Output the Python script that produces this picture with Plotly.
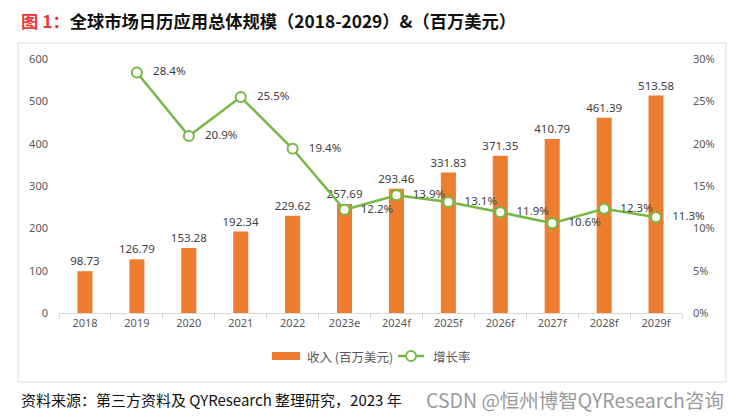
import plotly.graph_objects as go

categories = ["2018", "2019", "2020", "2021", "2022", "2023e", "2024f", "2025f", "2026f", "2027f", "2028f", "2029f"]
revenue = [98.73, 126.79, 153.28, 192.34, 229.62, 257.69, 293.46, 331.83, 371.35, 410.79, 461.39, 513.58]
growth = [None, 28.4, 20.9, 25.5, 19.4, 12.2, 13.9, 13.1, 11.9, 10.6, 12.3, 11.3]
left_ticks = [0, 100, 200, 300, 400, 500, 600]
right_ticks = [0, 5, 10, 15, 20, 25, 30]
bar_name = "收入 (百万美元)"
line_name = "增长率"

OFF = 8  # page body margin offset
W, H = 742 - OFF, 420 - OFF
# target screen coordinates of plot area
L, R, T, B = 59, 682, 59, 313
pw, ph = R - L, B - T

def px(x):
    return (x - L) / pw

def py(y):
    return (B - y) / ph

orange = "#ED7D31"
green = "#76B843"
tick_font = dict(family="Noto Sans, DejaVu Sans, sans-serif", size=11, color="#595959")
lab_font = dict(family="Noto Sans, DejaVu Sans, sans-serif", size=11.5, color="#404040")
leg_font = dict(family="Noto Sans CJK SC, sans-serif", size=12.5, color="#595959")

fig = go.Figure()
fig.add_trace(go.Bar(
    x=categories, y=revenue, name=bar_name,
    marker=dict(color=orange, line=dict(width=0)), width=0.29,
    text=[f"{v:.2f}" for v in revenue], textposition="outside",
    textfont=lab_font, cliponaxis=False, constraintext="none", yaxis="y",
))
fig.add_trace(go.Scatter(
    x=categories, y=growth, name=line_name, yaxis="y2",
    mode="lines+markers+text",
    line=dict(color=green, width=2.5),
    marker=dict(symbol="circle", size=10, color="white", line=dict(color=green, width=2)),
    text=[("" if g is None else f"   {g:.1f}%") for g in growth],
    textposition="middle right", textfont=lab_font, cliponaxis=False,
))

fig.update_layout(
    width=W, height=H,
    margin=dict(l=L - OFF, r=W - (R - OFF), t=T - OFF, b=H - (B - OFF), autoexpand=False),
    paper_bgcolor="white", plot_bgcolor="white",
    bargap=0.7,
    showlegend=False,
    xaxis=dict(type="category", range=[-0.5, 11.5], showline=True, linecolor="#D9D9D9", linewidth=1,
               ticks="outside", tickson="boundaries", ticklen=5, tickcolor="#D9D9D9",
               tickfont=tick_font, showgrid=False, fixedrange=True),
    yaxis=dict(range=[0, 600], tickvals=left_ticks, showgrid=False, zeroline=False,
               showline=False, tickfont=tick_font, ticklabelstandoff=10),
    yaxis2=dict(range=[0, 30], tickvals=right_ticks, ticktext=[f"{v}%" for v in right_ticks],
                overlaying="y", side="right", showgrid=False, zeroline=False,
                showline=False, tickfont=tick_font, ticklabelstandoff=10),
)

# Chart frame
fig.add_shape(type="rect", xref="paper", yref="paper",
              x0=px(18), x1=px(726), y0=py(382), y1=py(43),
              line=dict(color="#D9D9D9", width=1), fillcolor="rgba(0,0,0,0)", layer="below")

# Custom legend
ly = 356
fig.add_shape(type="rect", xref="paper", yref="paper",
              x0=px(272), x1=px(300), y0=py(360), y1=py(352),
              line=dict(width=0), fillcolor=orange)
fig.add_annotation(xref="paper", yref="paper", x=px(305), y=py(ly), xanchor="left", yanchor="middle",
                   showarrow=False, text=bar_name, font=leg_font)
fig.add_shape(type="line", xref="paper", yref="paper",
              x0=px(398), x1=px(424), y0=py(ly), y1=py(ly),
              line=dict(color=green, width=2.5))
fig.add_shape(type="circle", xref="paper", yref="paper",
              x0=px(406), x1=px(416), y0=py(ly + 5), y1=py(ly - 5),
              line=dict(color=green, width=2), fillcolor="white")
fig.add_annotation(xref="paper", yref="paper", x=px(431), y=py(ly), xanchor="left", yanchor="middle",
                   showarrow=False, text=line_name, font=leg_font)

# Title
fig.add_annotation(xref="paper", yref="paper", x=px(19), y=py(20), xanchor="left", yanchor="middle",
                   showarrow=False,
                   text="<b><span style='color:#F0363C'>图 1：</span>全球市场日历应用总体规模（2018-2029）&（百万美元）</b>",
                   font=dict(family="Noto Sans CJK SC, sans-serif", size=17.3, color="#111111"))
# Source
fig.add_annotation(xref="paper", yref="paper", x=px(19), y=py(399), xanchor="left", yanchor="middle",
                   showarrow=False,
                   text="资料来源：第三方资料及 QYResearch 整理研究，2023 年",
                   font=dict(family="Noto Sans CJK SC, sans-serif", size=15, color="#111111"))
# Watermark
fig.add_annotation(xref="paper", yref="paper", x=px(726), y=py(399), xanchor="right", yanchor="middle",
                   showarrow=False,
                   text="CSDN @恒州博智QYResearch咨询",
                   font=dict(family="Noto Sans CJK SC, sans-serif", size=19.5, color="#9A9A9A"))

fig.write_html("out.html")
